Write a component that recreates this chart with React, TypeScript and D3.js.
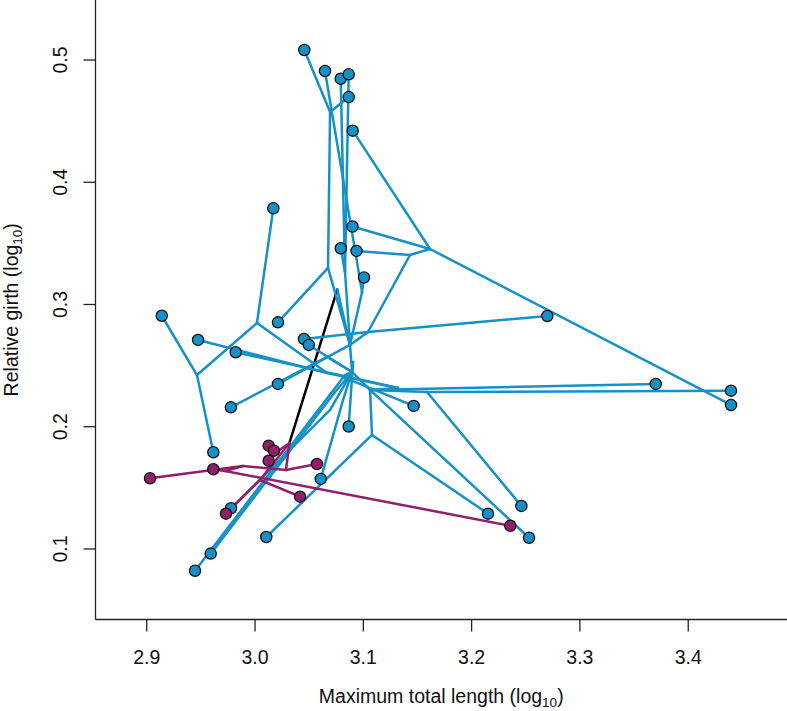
import React, { useRef, useEffect } from "react";
import * as d3 from "d3";

const W = 787;
const H = 711;

const xTicks = [2.9, 3.0, 3.1, 3.2, 3.3, 3.4];
const yTicks = [0.1, 0.2, 0.3, 0.4, 0.5];

// tips: [id, log10 max total length, log10 relative girth]
const blueTips: [string, number, number][] = [
  ["T1", 3.0455, 0.5082], ["T2", 3.0646, 0.491], ["T3", 3.0791, 0.4847],
  ["T4", 3.0865, 0.4883], ["T5", 3.0865, 0.4697], ["T6", 3.0902, 0.4422],
  ["T7", 3.0169, 0.3787], ["T8", 3.09, 0.3638], ["T9", 3.0792, 0.346],
  ["T10", 3.0937, 0.3438], ["T11", 3.1006, 0.3221], ["T12", 2.9139, 0.2908],
  ["T13", 3.0212, 0.2854], ["T14", 2.9474, 0.271], ["T15", 3.0452, 0.2718],
  ["T16", 3.0496, 0.2669], ["T17", 2.9822, 0.2609], ["T18", 3.0212, 0.235],
  ["T19", 2.9777, 0.2159], ["T20", 3.0865, 0.2002], ["T21", 2.9615, 0.1791],
  ["T22", 3.2699, 0.2906], ["T23", 3.1465, 0.217], ["T24", 3.37, 0.235],
  ["T25", 3.4395, 0.2295], ["T26", 3.4395, 0.2178], ["T27", 3.2459, 0.1352],
  ["T28", 3.2151, 0.1289], ["T29", 3.253, 0.1092], ["T30", 3.0607, 0.1573],
  ["T31", 2.9778, 0.1333], ["T32", 3.0104, 0.1098], ["T33", 2.9591, 0.0962],
  ["T34", 2.9446, 0.0822],
];

const magentaTips: [string, number, number][] = [
  ["M1", 2.903, 0.1578], ["M2", 2.9615, 0.1652], ["M3", 3.0126, 0.1845],
  ["M4", 3.0175, 0.1804], ["M5", 3.0126, 0.1722], ["M6", 3.0572, 0.1695],
  ["M7", 3.0416, 0.1428], ["M8", 2.9732, 0.1289], ["M9", 3.2357, 0.119],
];

// reconstructed ancestral states (internal nodes)
const ancestors: [string, number, number][] = [
  ["R", 3.076, 0.3124], ["MA", 3.0317, 0.1865], ["H0", 3.0877, 0.2669],
  ["B2", 3.0674, 0.3299], ["N1", 3.0693, 0.4575], ["Nt", 3.0831, 0.3266],
  ["Nt2", 3.0988, 0.3102], ["N9", 3.1043, 0.2775], ["N7", 3.1431, 0.3405],
  ["N6", 3.1616, 0.3454], ["H1", 3.0896, 0.2448], ["H2", 3.1062, 0.2301],
  ["P1", 3.1588, 0.2284], ["Q", 3.108, 0.1933], ["A", 2.9464, 0.2423],
  ["B", 3.0018, 0.2849], ["L1", 3.0665, 0.244], ["L3", 3.132, 0.2317],
  ["L4", 3.0665, 0.2571], ["K1", 3.0831, 0.2423], ["K2", 3.0739, 0.2284],
  ["K3", 3.0693, 0.2137], ["K4", 3.0813, 0.2219], ["K5", 3.0905, 0.253],
  ["K6", 3.0831, 0.2399], ["mX", 3.0286, 0.1646], ["mZ", 3.0046, 0.1564],
  ["mW", 2.9889, 0.1679], ["mV", 2.9723, 0.1638], ["mQ", 3.0157, 0.1769],
];

// tree edges: [parent, child, regime]
const edges: [string, string, string][] = [
  ["R", "MA", "k"], ["R", "H0", "b"],
  ["H0", "B2", "b"], ["H0", "Nt", "b"], ["H0", "Nt2", "b"], ["H0", "N9", "b"],
  ["H0", "H1", "b"], ["H0", "T18", "b"],
  ["B2", "N1", "b"], ["B2", "T13", "b"],
  ["N1", "T1", "b"], ["N1", "T5", "b"],
  ["Nt", "T3", "b"], ["Nt", "T9", "b"], ["Nt", "T4", "b"],
  ["Nt2", "T2", "b"], ["Nt2", "T11", "b"],
  ["N9", "N7", "b"], ["N9", "T22", "b"], ["N9", "T15", "b"],
  ["N7", "N6", "b"], ["N7", "T10", "b"],
  ["N6", "T6", "b"], ["N6", "T8", "b"], ["N6", "T26", "b"],
  ["H1", "L4", "b"], ["H1", "H2", "b"], ["H1", "K1", "b"], ["H1", "K2", "b"],
  ["H1", "K3", "b"], ["H1", "K4", "b"], ["H1", "K5", "b"], ["H1", "K6", "b"],
  ["H1", "T16", "b"],
  ["L4", "T19", "b"], ["K1", "T34", "b"], ["K2", "T33", "b"], ["K3", "T31", "b"],
  ["K4", "T30", "b"], ["K5", "T20", "b"], ["K6", "T23", "b"],
  ["H2", "P1", "b"], ["H2", "T24", "b"], ["H2", "Q", "b"], ["H2", "T29", "b"],
  ["H2", "L3", "b"],
  ["L3", "L1", "b"], ["L3", "T17", "b"],
  ["L1", "B", "b"], ["L1", "T14", "b"],
  ["B", "A", "b"], ["B", "T7", "b"],
  ["A", "T12", "b"], ["A", "T21", "b"],
  ["P1", "T27", "b"], ["P1", "T25", "b"],
  ["Q", "T32", "b"], ["Q", "T28", "b"],
  ["MA", "mX", "m"], ["MA", "mZ", "m"], ["MA", "mQ", "m"],
  ["mX", "mW", "m"], ["mX", "M6", "m"],
  ["mW", "M1", "m"], ["mW", "mV", "m"],
  ["mV", "M2", "m"], ["mV", "M9", "m"],
  ["mZ", "M8", "m"], ["mZ", "M7", "m"],
  ["mQ", "M3", "m"], ["mQ", "M4", "m"], ["mQ", "M5", "m"],
];

const colours: Record<string, string> = { b: "#1591c8", m: "#901f6c", k: "#000000" };
const FONT = "'Liberation Sans', Arial, Helvetica, sans-serif";

const App = () => {
  const svgRef = useRef<SVGSVGElement>(null);

  useEffect(() => {
    const svg = d3.select(svgRef.current);
    svg.selectAll("*").remove();

    const left = 95.5;
    const bottom = 619.5;

    const xScale = d3.scaleLinear().domain([2.8527, 3.4912]).range([left, W]);
    const yScale = d3.scaleLinear().domain([0.0423, 0.5491]).range([bottom, 0]);

    const pos = new Map<string, [number, number]>();
    [...blueTips, ...magentaTips, ...ancestors].forEach(([id, x, y]) => pos.set(id, [x, y]));

    // branches
    svg.append("g")
      .selectAll("line")
      .data(edges)
      .enter().append("line")
      .attr("x1", d => xScale(pos.get(d[0])![0]))
      .attr("y1", d => yScale(pos.get(d[0])![1]))
      .attr("x2", d => xScale(pos.get(d[1])![0]))
      .attr("y2", d => yScale(pos.get(d[1])![1]))
      .attr("stroke", d => colours[d[2]])
      .attr("stroke-width", 2.5)
      .attr("stroke-linecap", "round");

    // tips
    const drawTips = (tips: [string, number, number][], fill: string) => {
      svg.append("g")
        .selectAll("circle")
        .data(tips)
        .enter().append("circle")
        .attr("cx", d => xScale(d[1]))
        .attr("cy", d => yScale(d[2]))
        .attr("r", 5.6)
        .attr("fill", fill)
        .attr("stroke", "#111")
        .attr("stroke-width", 1.3);
    };
    drawTips(blueTips, colours.b);
    drawTips(magentaTips, colours.m);

    // axes (R style, bty = "l")
    const axes = svg.append("g").attr("stroke", "#222").attr("stroke-width", 1.3);
    axes.append("line").attr("x1", left).attr("x2", left).attr("y1", 0).attr("y2", bottom);
    axes.append("line").attr("x1", left).attr("x2", W).attr("y1", bottom).attr("y2", bottom);

    axes.selectAll(".xt").data(xTicks).enter().append("line")
      .attr("x1", d => xScale(d)).attr("x2", d => xScale(d))
      .attr("y1", bottom).attr("y2", bottom + 12);
    axes.selectAll(".yt").data(yTicks).enter().append("line")
      .attr("y1", d => yScale(d)).attr("y2", d => yScale(d))
      .attr("x1", left - 12).attr("x2", left);

    svg.append("g").selectAll("text").data(xTicks).enter().append("text")
      .attr("x", d => xScale(d))
      .attr("y", 664)
      .attr("text-anchor", "middle")
      .attr("font-family", FONT)
      .attr("font-size", 19.5)
      .attr("fill", "#111")
      .text(d => d3.format(".1f")(d));

    svg.append("g").selectAll("text").data(yTicks).enter().append("text")
      .attr("transform", d => `translate(67,${yScale(d)}) rotate(-90)`)
      .attr("text-anchor", "middle")
      .attr("font-family", FONT)
      .attr("font-size", 19.5)
      .attr("fill", "#111")
      .text(d => d3.format(".1f")(d));

    const xTitle = svg.append("text")
      .attr("x", (left + W) / 2)
      .attr("y", 703)
      .attr("text-anchor", "middle")
      .attr("font-family", FONT)
      .attr("font-size", 19.5)
      .attr("fill", "#111");
    xTitle.append("tspan").text("Maximum total length (log");
    xTitle.append("tspan").attr("font-size", 13.5).attr("dy", 4).text("10");
    xTitle.append("tspan").attr("dy", -4).text(")");

    const yTitle = svg.append("text")
      .attr("transform", `translate(18,${bottom / 2}) rotate(-90)`)
      .attr("text-anchor", "middle")
      .attr("font-family", FONT)
      .attr("font-size", 19.5)
      .attr("fill", "#111");
    yTitle.append("tspan").text("Relative girth (log");
    yTitle.append("tspan").attr("font-size", 13.5).attr("dy", 4).text("10");
    yTitle.append("tspan").attr("dy", -4).text(")");
  }, []);

  return (
    <svg
      ref={svgRef}
      width={W}
      height={H}
      style={{ position: "absolute", left: 0, top: 0, background: "#fff" }}
    />
  );
};

export default App;
